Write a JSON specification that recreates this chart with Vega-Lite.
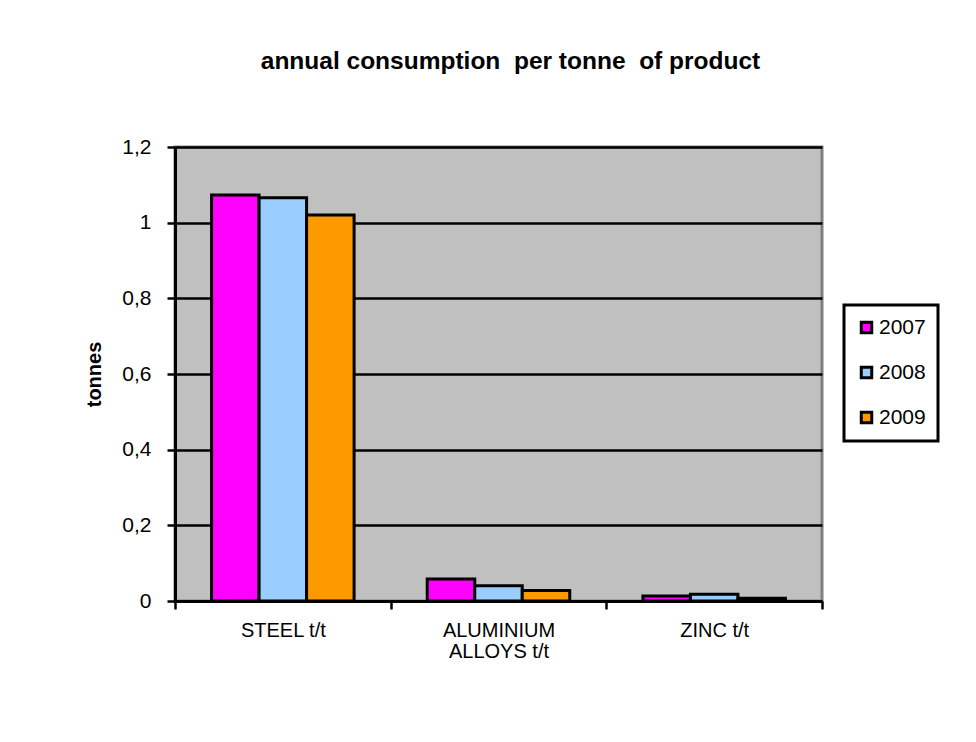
{
  "$schema": "https://vega.github.io/schema/vega-lite/v6.json",
  "autosize": {"type": "none"},
  "width": 647,
  "height": 454,
  "padding": {"left": 175, "top": 147, "right": 154, "bottom": 141},
  "background": "white",
  "title": {
    "text": "annual consumption \u00a0per tonne \u00a0of product",
    "font": "Liberation Sans",
    "fontSize": 24.5,
    "fontWeight": "bold",
    "color": "black",
    "offset": 62,
    "anchor": "middle",
    "dx": 12
  },
  "data": {
    "values": [
      {"material": "STEEL t/t", "year": "2007", "value": 1.073},
      {"material": "STEEL t/t", "year": "2008", "value": 1.066},
      {"material": "STEEL t/t", "year": "2009", "value": 1.020},
      {"material": "ALUMINIUM ALLOYS t/t", "year": "2007", "value": 0.058},
      {"material": "ALUMINIUM ALLOYS t/t", "year": "2008", "value": 0.040},
      {"material": "ALUMINIUM ALLOYS t/t", "year": "2009", "value": 0.028},
      {"material": "ZINC t/t", "year": "2007", "value": 0.013},
      {"material": "ZINC t/t", "year": "2008", "value": 0.018},
      {"material": "ZINC t/t", "year": "2009", "value": 0.007}
    ]
  },
  "mark": {"type": "bar", "stroke": "black", "strokeWidth": 3},
  "encoding": {
    "x": {
      "field": "material",
      "type": "nominal",
      "sort": null,
      "scale": {"paddingInner": 0, "paddingOuter": 0},
      "axis": {
        "title": null,
        "labelAngle": 0,
        "labelFont": "Liberation Sans",
        "labelFontSize": 20,
        "labelColor": "black",
        "labelPadding": 11,
        "labelBaseline": "top",
        "labelLineHeight": 21,
        "labelExpr": "datum.label == 'ALUMINIUM ALLOYS t/t' ? ['ALUMINIUM', 'ALLOYS t/t'] : datum.label",
        "tickBand": "extent",
        "ticks": true,
        "tickColor": "black",
        "tickWidth": 2.5,
        "tickSize": 8,
        "domainColor": "black",
        "domainWidth": 3,
        "grid": false
      }
    },
    "xOffset": {
      "field": "year",
      "type": "nominal",
      "scale": {"paddingInner": 0, "paddingOuter": 0.77}
    },
    "y": {
      "field": "value",
      "type": "quantitative",
      "scale": {"domain": [0, 1.2], "nice": false},
      "axis": {
        "title": "tonnes",
        "titleFont": "Liberation Sans",
        "titleFontSize": 20,
        "titleFontWeight": "bold",
        "titleColor": "black",
        "titlePadding": 17,
        "values": [0, 0.2, 0.4, 0.6, 0.8, 1, 1.2],
        "labelExpr": "replace(format(datum.value, '.1~f'), '.', ',')",
        "labelFont": "Liberation Sans",
        "labelFontSize": 21,
        "labelColor": "black",
        "labelPadding": 16,
        "tickColor": "black",
        "tickWidth": 2.5,
        "tickSize": 8,
        "domainColor": "black",
        "domainWidth": 3,
        "grid": true,
        "gridColor": "black",
        "gridWidth": 2.5
      }
    },
    "color": {
      "field": "year",
      "type": "nominal",
      "scale": {"domain": ["2007", "2008", "2009"], "range": ["#FF00FF", "#99CCFF", "#FF9900"]},
      "legend": {
        "title": null,
        "orient": "none",
        "legendX": 669,
        "legendY": 158,
        "symbolType": "square",
        "symbolSize": 110,
        "symbolStrokeColor": "black",
        "symbolStrokeWidth": 3,
        "labelFont": "Liberation Sans",
        "labelFontSize": 21,
        "labelColor": "black",
        "labelOffset": 2,
        "rowPadding": 22,
        "padding": 12,
        "strokeColor": "black",
        "fillColor": "white",
        "symbolOpacity": 1
      }
    }
  },
  "config": {
    "view": {"fill": "#C0C0C0", "stroke": "#808080", "strokeWidth": 3},
    "legend": {"strokeWidth": 3}
  }
}
